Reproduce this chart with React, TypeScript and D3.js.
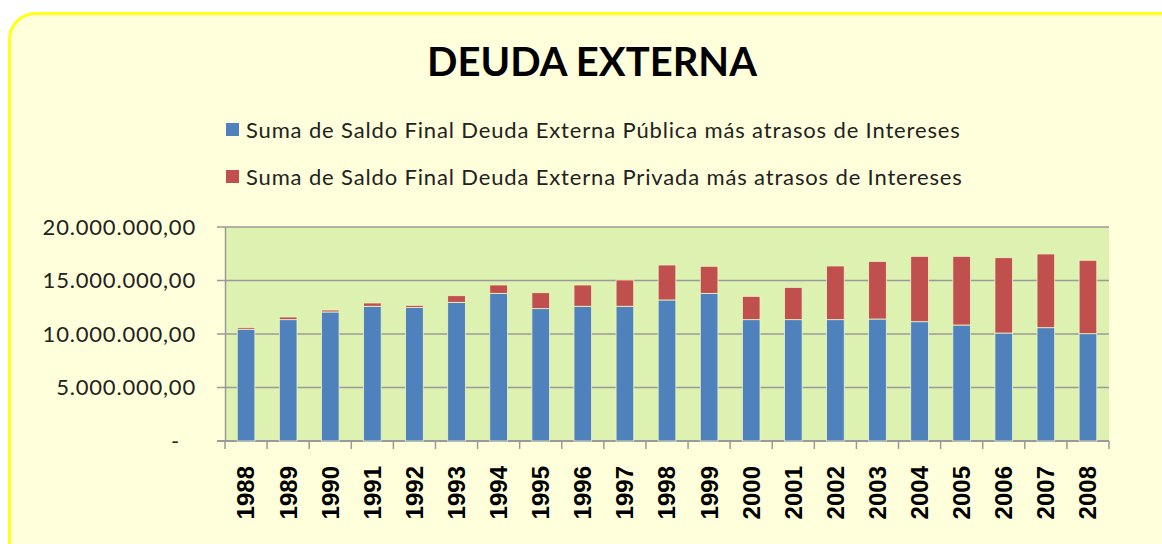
import { useEffect, useRef } from "react";
import * as d3 from "d3";

const years = [
  "1988", "1989", "1990", "1991", "1992", "1993", "1994", "1995", "1996", "1997", "1998",
  "1999", "2000", "2001", "2002", "2003", "2004", "2005", "2006", "2007", "2008",
];
const publica = [
  10450000, 11340000, 12060000, 12590000, 12490000, 12960000, 13800000, 12370000, 12590000, 12590000, 13180000,
  13800000, 11340000, 11340000, 11340000, 11400000, 11150000, 10840000, 10090000, 10590000, 10030000,
];
const privada = [
  160000, 250000, 180000, 310000, 190000, 620000, 780000, 1490000, 1990000, 2460000, 3270000,
  2530000, 2180000, 3020000, 5020000, 5390000, 6110000, 6420000, 7040000, 6890000, 6860000,
];
const yTicks = [0, 5000000, 10000000, 15000000, 20000000];
const legendLabels = [
  "Suma de Saldo Final Deuda Externa Pública más atrasos de Intereses",
  "Suma de Saldo Final Deuda Externa Privada más atrasos de Intereses",
];
const colors = ["#4F81BD", "#C0504D"];

const W = 1162;
const H = 544;

function App() {
  const svgRef = useRef<SVGSVGElement | null>(null);

  useEffect(() => {
    const svg = d3.select(svgRef.current);
    svg.selectAll("*").remove();

    const margin = { top: 227, left: 225, right: 53, bottom: 103 };
    const chartW = W - margin.left - margin.right;
    const chartH = H - margin.top - margin.bottom;

    // outer panel
    svg
      .append("rect")
      .attr("x", 9.5)
      .attr("y", 13.5)
      .attr("width", 1180)
      .attr("height", 580)
      .attr("rx", 26)
      .attr("fill", "#FFFFDC")
      .attr("stroke", "#FFFF1A")
      .attr("stroke-width", 3);

    svg
      .append("text")
      .attr("x", 592)
      .attr("y", 76)
      .attr("text-anchor", "middle")
      .attr("font-family", "Lato, 'Open Sans', sans-serif")
      .attr("font-weight", "bold")
      .attr("font-size", 40)
      .attr("fill", "#000")
      .text("DEUDA EXTERNA");

    legendLabels.forEach((label, i) => {
      const ly = 131 + i * 47;
      svg
        .append("rect")
        .attr("x", 226)
        .attr("y", ly - 8)
        .attr("width", 13)
        .attr("height", 13)
        .attr("fill", colors[i]);
      svg
        .append("text")
        .attr("x", 246)
        .attr("y", ly + 7)
        .attr("font-family", "Lato, 'Open Sans', sans-serif")
        .attr("font-size", 22)
        .attr("letter-spacing", 0.85)
        .attr("fill", "#222")
        .text(label);
    });

    const x = d3.scaleBand().domain(years).range([0, chartW]).paddingInner(0.58).paddingOuter(0.29);
    const y = d3.scaleLinear().domain([0, 20000000]).range([chartH, 0]);

    const g = svg.append("g").attr("transform", `translate(${margin.left},${margin.top})`);

    g.append("rect").attr("width", chartW).attr("height", chartH).attr("fill", "#DDF1B1");

    g.append("line")
      .attr("x1", 0.5)
      .attr("x2", 0.5)
      .attr("y1", 0)
      .attr("y2", chartH)
      .attr("stroke", "#9A9A9A")
      .attr("stroke-width", 1.5);

    yTicks.forEach((t) => {
      g.append("line")
        .attr("x1", -8)
        .attr("x2", chartW)
        .attr("y1", y(t))
        .attr("y2", y(t))
        .attr("stroke", "#9A9A9A")
        .attr("stroke-width", t === 0 ? 2 : 1.5);
      g.append("text")
        .attr("x", t === 0 ? -45 : -29)
        .attr("y", y(t))
        .attr("dy", "0.35em")
        .attr("text-anchor", "end")
        .attr("font-family", "Lato, 'Open Sans', sans-serif")
        .attr("font-size", 22)
        .attr("letter-spacing", 0.8)
        .attr("fill", "#222")
        .text(t === 0 ? "-" : d3.format(",.2f")(t).replace(/,/g, "#").replace(".", ",").replace(/#/g, "."));
    });

    const step = chartW / years.length;
    d3.range(years.length + 1).forEach((i) => {
      g.append("line")
        .attr("x1", i * step)
        .attr("x2", i * step)
        .attr("y1", chartH)
        .attr("y2", chartH + 8)
        .attr("stroke", "#9A9A9A")
        .attr("stroke-width", 1.5);
    });

    const stacked = d3.stack<number>().keys(["0", "1"]).value((i, k) => (k === "0" ? publica[i] : privada[i]))(
      d3.range(years.length)
    );

    stacked.forEach((layer, li) => {
      g.selectAll(`.s${li}`)
        .data(layer)
        .join("rect")
        .attr("x", (d) => x(years[d.data])!)
        .attr("width", x.bandwidth())
        .attr("y", (d) => y(d[1]))
        .attr("height", (d) => y(d[0]) - y(d[1]))
        .attr("fill", colors[li])
        .attr("stroke", "#EEF6C6")
        .attr("stroke-width", 0.8);
    });

    years.forEach((yr) => {
      g.append("text")
        .attr("transform", `translate(${x(yr)! + x.bandwidth() / 2},${chartH + 25}) rotate(-90)`)
        .attr("dy", "0.35em")
        .attr("text-anchor", "end")
        .attr("font-family", "'Liberation Sans', Arial, sans-serif")
        .attr("font-weight", "bold")
        .attr("font-size", 24)
        .attr("fill", "#000")
        .text(yr);
    });
  }, []);

  return (
    <svg
      ref={svgRef}
      width={W}
      height={H}
      style={{ position: "absolute", left: 0, top: 0, display: "block" }}
    />
  );
}

export default App;
